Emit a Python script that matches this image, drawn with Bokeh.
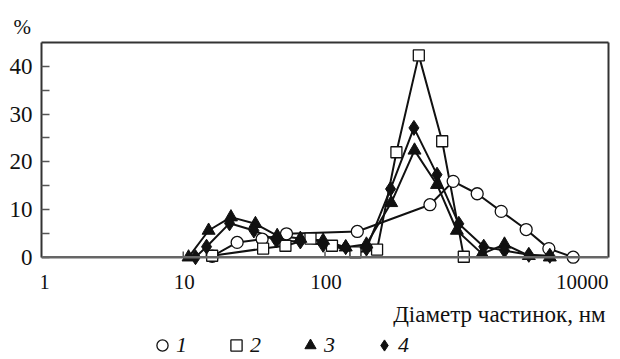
from bokeh.plotting import figure
from bokeh.models import (FixedTicker, Legend, LegendItem, Span, Title,
                          Label, LinearAxis, LogAxis, Range1d)
from bokeh.embed import file_html
from bokeh.resources import INLINE

# ---- data ----
s1_x = [16, 24, 36, 53.5, 169, 550, 802, 1185, 1750, 2625, 3795, 5634]
s1_y = [0.2, 3.1, 3.8, 4.9, 5.4, 11.0, 15.9, 13.3, 9.6, 5.8, 1.8, 0.0]
s2_x = [16, 36.6, 52.6, 79, 112, 164, 233, 319, 459, 671, 953]
s2_y = [0.3, 1.8, 2.4, 3.9, 2.4, 1.0, 1.6, 22.0, 42.3, 24.3, 0.1]
s3_x = [10.9, 15.1, 21.7, 32.3, 46, 67, 97, 140, 196, 293, 428, 617, 852, 1285, 1846, 2741, 3855]
s3_y = [0.0, 5.6, 8.4, 7.0, 4.5, 3.9, 3.5, 2.1, 2.7, 11.4, 22.4, 15.2, 5.6, 0.7, 2.7, 0.3, 0.0]
s4_x = [12.2, 14.6, 21.2, 31.5, 45.5, 67, 97, 140, 196, 290, 424, 617, 879, 1318, 1846, 2741, 3855]
s4_y = [0.0, 2.2, 7.1, 5.6, 3.5, 3.3, 2.6, 2.1, 1.8, 14.3, 27.1, 17.3, 7.0, 2.2, 1.4, 0.5, 0.3]
series_names = ["1", "2", "3", "4"]

x_ticks = [1, 10, 100, 1000, 10000]
x_tick_labels = ["1", "10", "100", "", "10000"]
y_ticks = [0, 10, 20, 30, 40]
y_minor = [5, 15, 25, 35]
y_unit = "%"
x_title = "Діаметр частинок, нм"

FONT = "Liberation Serif"
INK = "#111111"
AX = "#555555"
FRAME = "#333333"

# The frame runs to the bottom of the canvas so that the x labels,
# the axis title and the legend (drawn as annotations) are not clipped.
Y_TOP = 45
Y_BOTTOM = -21.44

p = figure(width=620, height=359, x_axis_type="log",
           x_range=Range1d(x_ticks[0], x_ticks[-1]),
           y_range=Range1d(Y_BOTTOM, Y_TOP),
           output_backend="svg", toolbar_location=None,
           min_border_left=41, min_border_right=12,
           min_border_top=42, min_border_bottom=0)
p.outline_line_color = None
p.grid.visible = False
p.xaxis.visible = False
p.background_fill_color = "white"

ya = p.yaxis[0]
ya.ticker = FixedTicker(ticks=y_ticks, minor_ticks=y_minor)
ya.bounds = (0, Y_TOP)
ya.axis_line_color = FRAME
ya.axis_line_width = 2
ya.major_tick_in = 8
ya.major_tick_out = 0
ya.minor_tick_in = 8
ya.minor_tick_out = 0
ya.major_tick_line_color = AX
ya.minor_tick_line_color = AX
ya.major_tick_line_width = 1.5
ya.minor_tick_line_width = 1.5
ya.major_label_standoff = 9
ya.major_label_text_font = FONT
ya.major_label_text_font_size = "23px"
ya.major_label_text_color = INK

# frame lines top & right
top_ax = LogAxis(ticker=FixedTicker(ticks=[]), axis_line_color=FRAME,
                 axis_line_width=2, major_label_text_font_size="0px",
                 major_tick_in=0, major_tick_out=0, minor_tick_in=0,
                 minor_tick_out=0, major_label_standoff=0)
p.add_layout(top_ax, "above")
right_ax = LinearAxis(ticker=FixedTicker(ticks=[]), bounds=(0, Y_TOP),
                      axis_line_color=FRAME, axis_line_width=2,
                      major_label_text_font_size="0px", major_tick_in=0,
                      major_tick_out=0, minor_tick_in=0, minor_tick_out=0,
                      major_label_standoff=0)
p.add_layout(right_ax, "right")

# "%" unit above the y axis
p.add_layout(Title(text=y_unit, align="left", offset=-28, standoff=8,
                   text_font=FONT, text_font_size="21px",
                   text_font_style="normal", text_color=INK), "above")

# x axis base line and inner decade ticks
p.add_layout(Span(location=0, dimension="width", line_color="#666666",
                  line_width=2.5))
inner = x_ticks[1:-1]
p.segment(x0=inner, y0=[0] * len(inner), x1=inner, y1=[1.2] * len(inner),
          line_color=AX, line_width=1.5)

# x tick labels
for t, lab in zip(x_ticks, x_tick_labels):
    if not lab:
        continue
    if t == x_ticks[-1]:
        align, dx = "right", 0
    elif t == x_ticks[0]:
        align, dx = "center", 3
    else:
        align, dx = "center", 1
    p.add_layout(Label(x=t, y=78, x_units="data", y_units="screen",
                       x_offset=dx, text=lab, text_align=align,
                       text_baseline="middle", text_font=FONT,
                       text_font_size="21px", text_color=INK))

# x axis title, right aligned
p.add_layout(Label(x=564, y=45, x_units="screen", y_units="screen",
                   text=x_title, text_align="right",
                   text_baseline="alphabetic", text_font=FONT,
                   text_font_size="23px", text_color=INK))

# series
for xs, ys in [(s1_x, s1_y), (s2_x, s2_y), (s3_x, s3_y), (s4_x, s4_y)]:
    p.line(xs, ys, line_color=INK, line_width=2)

r1 = p.scatter(s1_x, s1_y, marker="circle", size=12, fill_color="white",
               line_color=INK, line_width=1.3)
r2 = p.scatter(s2_x, s2_y, marker="square", size=11, fill_color="white",
               line_color=INK, line_width=1.3)
r3 = p.scatter(s3_x, s3_y, marker="triangle", size=13, fill_color=INK,
               line_color=INK, line_width=1)
r4 = p.scatter(s4_x, s4_y, marker="diamond", size=15, fill_color=INK,
               line_color=INK, line_width=1)

legend = Legend(items=[LegendItem(label=n, renderers=[r])
                       for n, r in zip(series_names, [r1, r2, r3, r4])],
                orientation="horizontal", location=(107, 0),
                glyph_width=28, glyph_height=28, label_standoff=-3,
                label_width=10, label_height=28, spacing=35, padding=0,
                margin=0, border_line_color=None, background_fill_alpha=0,
                label_text_font=FONT, label_text_font_style="italic",
                label_text_font_size="22px", label_text_color=INK)
p.add_layout(legend)

open("out.html", "w").write(file_html(p, INLINE))
